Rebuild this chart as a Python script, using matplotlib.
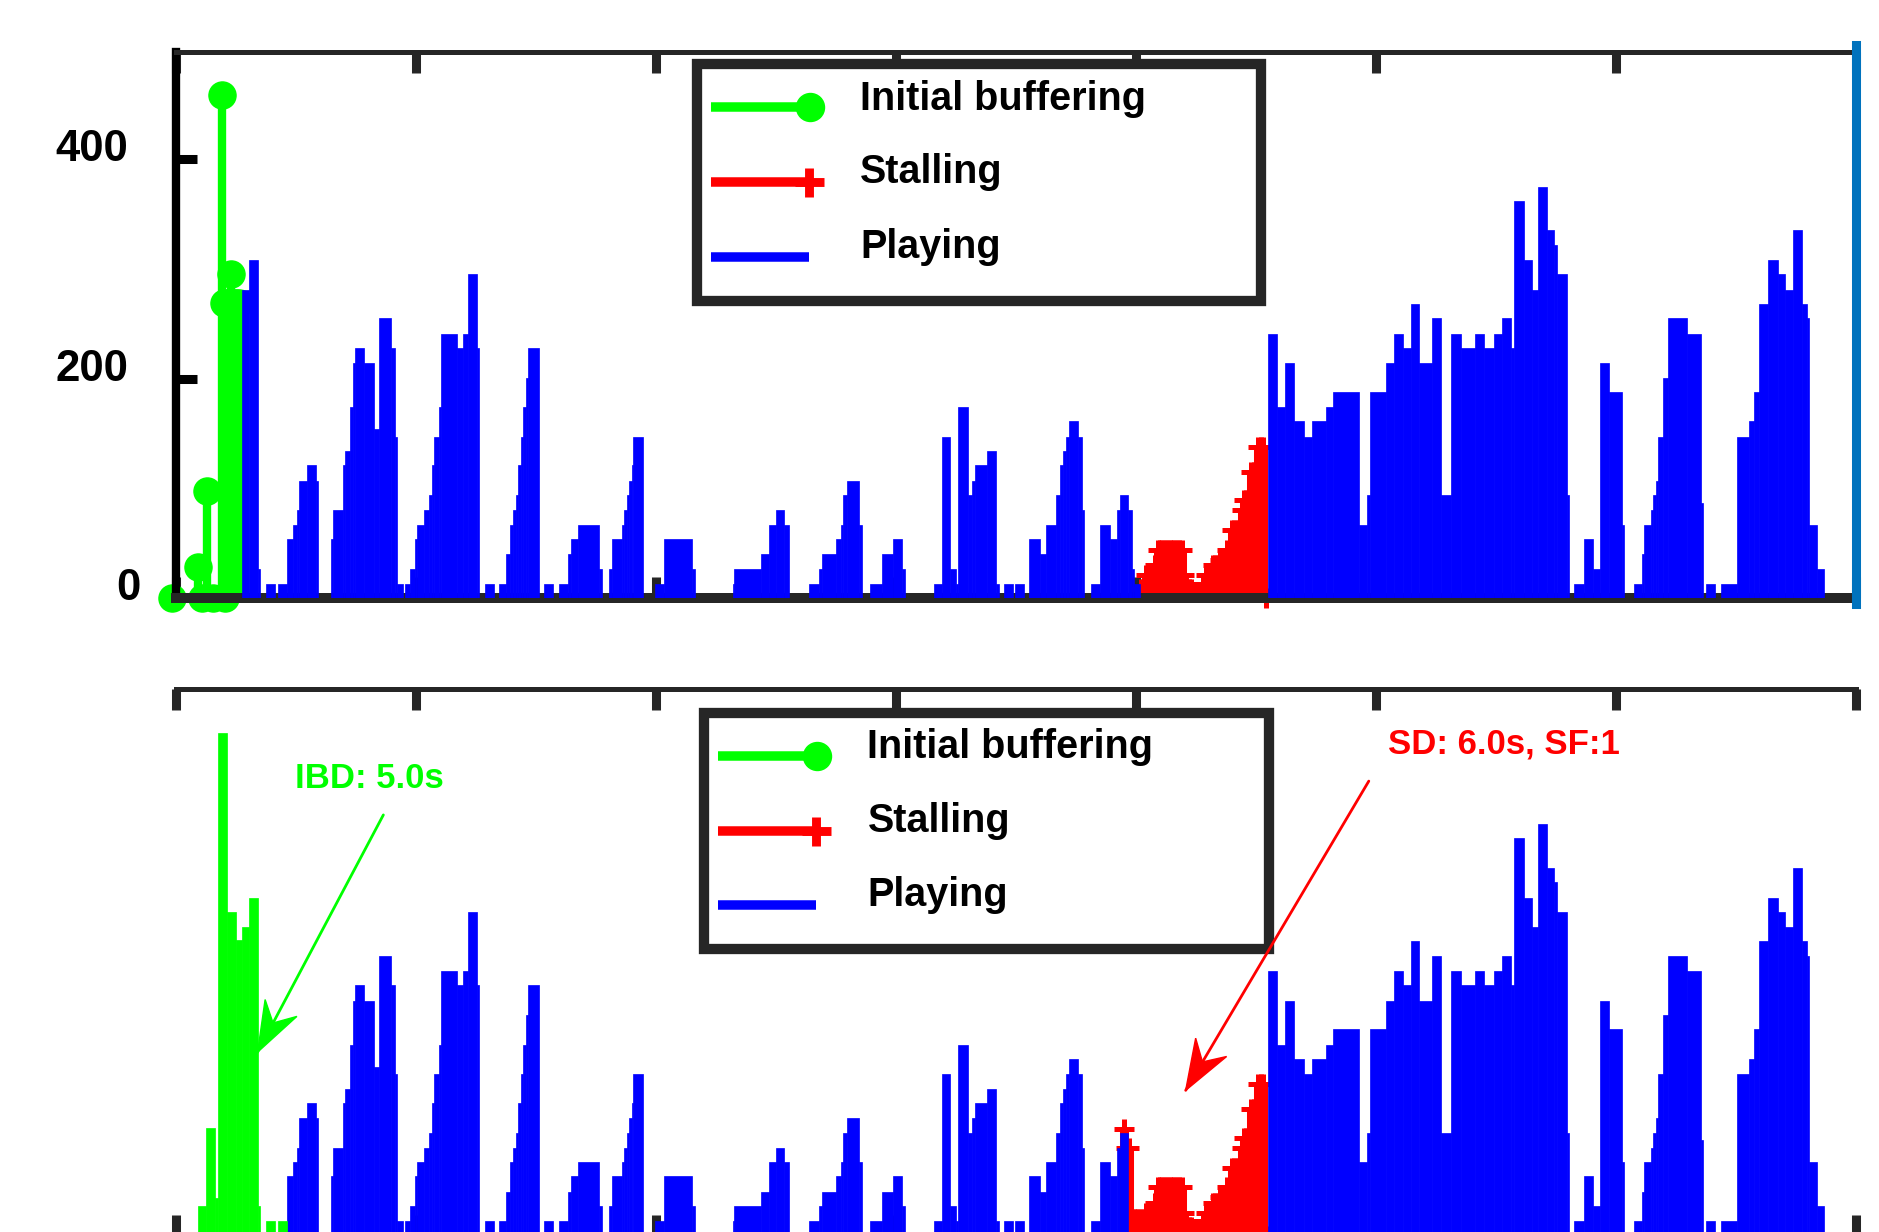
import numpy as np
import matplotlib
matplotlib.use("Agg")
import matplotlib.pyplot as plt
from matplotlib.lines import Line2D
from matplotlib.patches import Rectangle, Polygon
from matplotlib.transforms import Affine2D, ScaledTranslation, IdentityTransform

W, H, DPI = 1879, 1232, 100
PX = 72.0 / DPI  # points per pixel

plt.rcParams['font.family'] = ['Liberation Sans', 'DejaVu Sans']
plt.rcParams['font.weight'] = 'bold'

# ---------------- data ----------------
# playing throughput: run start times (s) and heights
play_t = [2.74, 3.04, 3.40, 3.50, 3.75, 4.14, 4.24, 4.61, 4.86, 5.03,
          5.14, 5.45, 5.82, 5.93, 6.45, 6.55, 6.95, 7.04, 7.25, 7.36,
          7.46, 7.82, 8.23, 8.44, 8.94, 9.13, 9.22, 9.47, 9.54, 9.75,
          9.96, 10.05, 10.35, 10.55, 10.65, 10.75, 10.96, 11.05, 11.72, 11.95,
          12.15, 12.54, 12.64, 12.88, 13.24, 13.47, 13.75, 13.92, 14.05, 14.17,
          14.26, 14.36, 14.47, 14.57, 14.68, 15.14, 15.35, 15.72, 15.97, 16.35,
          16.45, 16.76, 17.64, 17.74, 18.05, 18.17, 18.57, 18.67, 18.78, 18.88,
          18.99, 19.05, 19.45, 19.96, 20.35, 21.48, 21.63, 23.19, 23.25, 24.36,
          24.70, 24.98, 25.33, 25.53, 26.37, 26.78, 26.91, 27.49, 27.71, 27.80,
          27.95, 28.45, 28.58, 28.92, 29.42, 29.89, 30.26, 30.37, 31.58, 31.90,
          32.27, 32.49, 32.60, 32.98, 33.16, 33.29, 33.81, 34.18, 34.28, 34.50,
          34.88, 34.96, 35.33, 35.54, 36.00, 36.25, 36.67, 36.83, 36.96, 37.08,
          37.21, 37.58, 37.75, 37.83, 38.13, 38.50, 38.92, 39.20, 39.33, 39.68,
          39.82, 39.92, 40.17, 45.51, 45.88, 46.22, 46.60, 47.00, 47.32, 47.93,
          48.22, 49.30, 49.61, 49.74, 50.43, 50.73, 51.11, 51.45, 51.81, 52.35,
          52.72, 53.13, 53.53, 54.13, 54.52, 54.93, 55.24, 55.62, 55.75, 56.15,
          56.52, 56.74, 57.14, 57.42, 57.55, 57.95, 58.04, 58.27, 58.67, 59.03,
          59.33, 59.72, 60.24, 60.33, 60.76, 61.07, 61.17, 61.46, 61.55, 61.65,
          61.76, 61.97, 62.17, 62.95, 63.54, 63.64, 63.75, 64.14, 64.36, 65.05,
          65.55, 65.76, 65.96, 66.35, 66.74, 67.04, 67.36, 67.74, 67.95, 68.05,
          68.36, 68.67]
play_v = [281, 308, 27, 0, 13, 0, 13, 54, 67, 80,
          107, 121, 107, 0, 54, 80, 121, 134, 174, 214,
          228, 214, 154, 255, 228, 147, 13, 0, 13, 27,
          54, 67, 80, 94, 121, 147, 174, 241, 228, 241,
          295, 228, 0, 13, 0, 13, 40, 67, 80, 94,
          121, 147, 174, 201, 228, 0, 13, 0, 13, 40,
          54, 67, 27, 0, 27, 54, 67, 80, 94, 107,
          121, 147, 0, 13, 54, 27, 0, 13, 27, 40,
          67, 80, 67, 0, 13, 27, 40, 54, 67, 94,
          107, 67, 0, 13, 40, 54, 27, 0, 13, 147,
          27, 13, 174, 94, 107, 121, 134, 13, 0, 13,
          0, 13, 0, 54, 40, 67, 94, 121, 134, 147,
          161, 147, 80, 0, 13, 67, 54, 80, 94, 80,
          27, 13, 0, 241, 174, 214, 161, 147, 161, 174,
          188, 67, 94, 188, 214, 241, 228, 268, 214, 255,
          94, 241, 228, 241, 228, 241, 255, 228, 362, 308,
          281, 375, 335, 322, 295, 94, 0, 13, 54, 27,
          214, 188, 67, 0, 13, 40, 67, 80, 94, 107,
          147, 201, 255, 241, 87, 0, 13, 0, 13, 147,
          161, 188, 268, 308, 295, 281, 335, 268, 255, 67,
          27, 0]
play_end = 70.0

# initial buffering bars (bottom panel)
ib_t = [0.93, 1.24, 1.63, 1.74, 2.11, 2.50]
ib_v = [27, 98, 34, 458, 295, 269]
ibd_end = 4.61          # playing samples before this are still initial buffering

# initial buffering samples (top panel, stems with circles)
ibl_t = [-0.15, 0.90, 1.10, 1.30, 1.55, 1.90, 2.00, 2.05, 2.10, 2.20, 2.30,
         2.40, 2.50, 2.62]
ibl_v = [0, 28, 0, 98, 0, 458, 269, 0, 269, 269, 295,
         269, 269, 269]

# stalling samples every 0.1 s
stall_top_t0 = 40.2
stall_top_v = [8, 8, 21, 21, 21, 21, 30,
               44, 44, 44, 44, 44, 44, 44, 44, 44, 44, 44,
               21, 8, 8, 8, 6, 6, 6, 6, 13, 21, 21, 21, 30, 30, 30, 35, 35, 35, 44, 44,
               62, 62, 62, 62, 80, 89, 89, 89, 115, 115, 115, 138, 138, 138, 0]
stall_bot_t0 = 39.5
stall_bot_v = [97, 80, 80, 15, 15, 15, 15, 15, 15] + stall_top_v[2:]
stall_bot_start = 39.68   # playing bars hidden from here in bottom panel
stall_end = 45.5

ibd_label = 'IBD: 5.0s'
sd_label = 'SD: 6.0s, SF:1'
legend_labels = ['Initial buffering', 'Stalling', 'Playing']

GREEN, RED, BLUE = '#00FF00', '#FF0000', '#0000FF'
DARK = '#262626'

# ---------------- figure ----------------
fig = plt.figure(figsize=(W / DPI, H / DPI), dpi=DPI)
fig.patch.set_facecolor('white')
ax_h = 546.7 / H
ax_top = fig.add_axes([176 / W, 1 - 598.2 / H, 1680 / W, ax_h])
ax_bot = fig.add_axes([176 / W, 1 - 1235.7 / H, 1680 / W, ax_h])

pt = np.array(play_t)
pv = np.array(play_v)
pw = np.diff(np.append(pt, play_end))


def bars(ax, t, v, w, color, z=3):
    ax.bar(t, v, width=w, align='edge', color=color, edgecolor=color,
           linewidth=0.5, zorder=z)


def style(ax, left):
    ax.set_xlim(0, 70)
    ax.set_ylim(0, 498)
    ax.set_xticks(np.arange(0, 71, 10))
    ax.tick_params(axis='x', which='both', direction='in', top=True, bottom=True,
                   labelbottom=False, length=15, width=6.5, color=DARK)
    ax.spines['top'].set_linewidth(3.6)
    ax.spines['top'].set_color(DARK)
    ax.spines['bottom'].set_linewidth(7.2)
    ax.spines['bottom'].set_color(DARK)
    ax.spines['right'].set_visible(False)
    if left:
        ax.spines['left'].set_linewidth(6.0)
        ax.spines['left'].set_color('black')
        ax.set_yticks([0, 200, 400])
        ax.set_yticklabels(['0', '200', '400'], fontsize=31.5, fontweight='bold')
        ax.tick_params(axis='y', direction='in', left=True, right=False,
                       length=15, width=6.5, color='black', pad=34.6)
    else:
        ax.spines['left'].set_visible(False)
        ax.set_yticks([])


def stems(ax, t, v, color, marker, ms, mew, lw):
    ml, sl, bl = ax.stem(t, v, linefmt='-', markerfmt=marker, basefmt=' ')
    sl.set_color(color); sl.set_linewidth(lw); sl.set_capstyle('butt'); sl.set_zorder(2)
    ml.set_color(color); ml.set_markersize(ms); ml.set_markeredgewidth(mew)
    ml.set_markerfacecolor(color); ml.set_clip_on(False); ml.set_zorder(2)
    bl.set_visible(False)


# ---- top panel ----
style(ax_top, True)
bars(ax_top, pt, pv, pw, BLUE)
stems(ax_top, ibl_t, ibl_v, GREEN, 'o', 19.5, 1.0, 6.0)
st_t = np.round(stall_top_t0 + 0.1 * np.arange(len(stall_top_v)), 2)
stems(ax_top, st_t, stall_top_v, RED, '+', 14, 3.6, 6.5)
ax_top.axvline(70, ymin=-0.01, ymax=1.011, color='#0072BD', lw=6.5,
               clip_on=False, zorder=4)
for lab, dx in zip(ax_top.get_yticklabels(), [13, 0, 0]):
    lab.set_transform(lab.get_transform() +
                      ScaledTranslation(dx / DPI, 14 / DPI, fig.dpi_scale_trans))

# ---- bottom panel ----
style(ax_bot, False)
blue_mask = (pt >= ibd_end) & ~((pt >= stall_bot_start) & (pt < stall_end))
bars(ax_bot, pt[blue_mask], pv[blue_mask], pw[blue_mask], BLUE)
ibw = np.diff(np.append(ib_t, play_t[0]))
bars(ax_bot, ib_t, ib_v, ibw, GREEN)
gm = pt < ibd_end
bars(ax_bot, pt[gm], pv[gm], pw[gm], GREEN)
sb_t = np.round(stall_bot_t0 + 0.1 * np.arange(len(stall_bot_v)), 2)
stems(ax_bot, sb_t, stall_bot_v, RED, '+', 14, 3.6, 6.5)


def arrow(ax, start, tip, color, text, text_xy):
    ax.text(text_xy[0], text_xy[1], text, color=color, fontsize=25, fontweight='bold',
            ha='left', va='baseline', zorder=8)
    ax.annotate('', xy=tip, xytext=start,
                arrowprops=dict(arrowstyle='-', color=color, lw=2.0,
                                shrinkA=0, shrinkB=0), zorder=8)
    p0 = ax.transData.transform(start)
    p1 = ax.transData.transform(tip)
    u = (p1 - p0) / np.hypot(*(p1 - p0))
    n = np.array([-u[1], u[0]])
    head = [p1, p1 - 50 * u + 18 * n, p1 - 33 * u, p1 - 50 * u - 18 * n]
    ax.add_patch(Polygon(head, closed=True, transform=IdentityTransform(),
                         fc=color, ec=color, lw=1.0, zorder=8, clip_on=False))


arrow(ax_bot, (8.64, 383.3), (3.40, 167.2), GREEN, ibd_label, (4.94, 407.7))
arrow(ax_bot, (49.70, 414.1), (42.07, 132.4), RED, sd_label, (50.52, 439.7))

# ---- legends (drawn in image-pixel coordinates) ----
pix = Affine2D().scale(1.0 / W, -1.0 / H).translate(0, 1) + fig.transFigure


def draw_legend(ax, dx, dy):
    ax.add_patch(Rectangle((696.6 + dx, 64.2 + dy), 564.5, 236.3, transform=pix,
                           fc='white', ec=DARK, lw=10.3 * PX, zorder=6, clip_on=False))
    rows = [(107.4, 110.0, GREEN, 'o'), (182.3, 183.2, RED, '+'), (256.8, 257.5, BLUE, None)]
    for (ly, base, col, mk), lab in zip(rows, legend_labels):
        ax.add_line(Line2D([710.7 + dx, 809.0 + dx], [ly + dy, ly + dy], transform=pix,
                           color=col, lw=9.5 * PX, solid_capstyle='butt', zorder=7,
                           clip_on=False))
        if mk == 'o':
            ax.add_line(Line2D([809.8 + dx], [ly + dy], transform=pix, marker='o',
                               ms=28 * PX, color=col, mec=col, mfc=col, ls='none',
                               zorder=7, clip_on=False))
        elif mk == '+':
            ax.add_line(Line2D([809.0 + dx], [ly + dy], transform=pix, marker='+',
                               ms=29 * PX, mew=8.9 * PX, color=col, ls='none',
                               zorder=7, clip_on=False))
        ax.text(860 + dx, base + dy, lab, transform=pix, fontsize=28.5,
                fontweight='bold', ha='left', va='baseline', color='black', zorder=7)


draw_legend(ax_top, 0, 0)
draw_legend(ax_bot, 7.5, 648.5)

fig.savefig('out.png', dpi=DPI, facecolor='white')
